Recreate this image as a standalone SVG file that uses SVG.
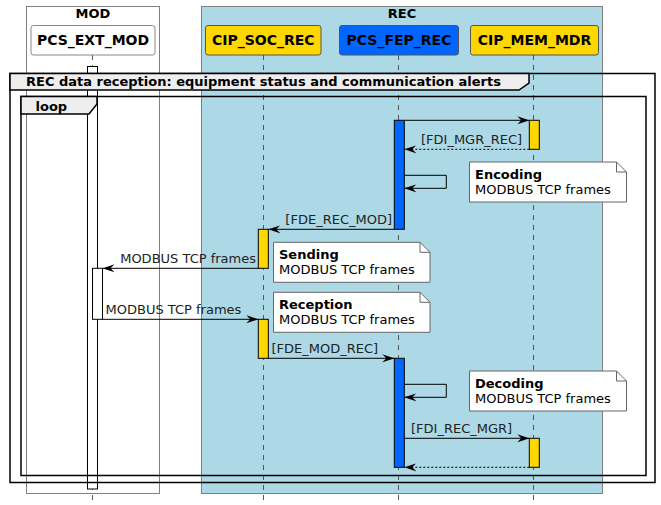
<svg xmlns="http://www.w3.org/2000/svg" width="661" height="505" viewBox="0 0 661 505">
<style>
text{font-family:"DejaVu Sans","Liberation Sans",sans-serif;fill:#000}
.pt{font-size:14px;font-weight:bold;text-anchor:middle}
.bt{font-size:13px;font-weight:bold;text-anchor:middle}
.ml{font-size:13px;fill:#222}
.nb{font-size:13px;font-weight:bold}
.nt{font-size:13px}
.life{stroke:#555;stroke-width:1;stroke-dasharray:5,5;fill:none}
.msg{stroke:#000;stroke-width:1;fill:none}
.ret{stroke:#000;stroke-width:1;fill:none;stroke-dasharray:2,2}
.act{stroke:#000;stroke-width:1}
.note{fill:#fff;stroke:#666;stroke-width:1}
.frame{fill:none;stroke:#000;stroke-width:1.5}
.tab{fill:#eee;stroke:#000;stroke-width:1.5}
</style>
<defs>
<marker id="ah" viewBox="0 0 12 10" refX="12" refY="5" markerWidth="12" markerHeight="10" markerUnits="userSpaceOnUse" orient="auto">
<polygon points="0,1 12,5 0,9 4,5" fill="#000"/>
</marker>
</defs>
<g id="box-MOD">
<rect x="26.5" y="6.5" width="133" height="487" fill="none" stroke="#808080"/>
<text class="bt" x="93" y="18">MOD</text>
</g>
<g id="box-REC">
<rect x="201.5" y="6.5" width="401" height="487" fill="#ADD8E6" stroke="#808080"/>
<text class="bt" x="402" y="18">REC</text>
</g>
<g id="lifelines">
<line class="life" x1="92.5" y1="55" x2="92.5" y2="502"/>
<line class="life" x1="263.5" y1="55" x2="263.5" y2="502"/>
<line class="life" x1="398.5" y1="55" x2="398.5" y2="502"/>
<line class="life" x1="533.5" y1="55" x2="533.5" y2="502"/>
</g>
<g id="PCS_EXT_MOD">
<rect x="31" y="25.5" width="124" height="29.5" rx="2.5" fill="#fff" stroke="#888"/>
<text class="pt" x="93" y="45">PCS_EXT_MOD</text>
</g>
<g id="CIP_SOC_REC">
<rect x="205.5" y="25.5" width="115.5" height="29.5" rx="2.5" fill="#FFD700" stroke="#555"/>
<text class="pt" x="263.3" y="45">CIP_SOC_REC</text>
</g>
<g id="PCS_FEP_REC">
<rect x="339.5" y="25.5" width="119" height="29.5" rx="2.5" fill="#0066FF" stroke="#555"/>
<text class="pt" x="399" y="45">PCS_FEP_REC</text>
</g>
<g id="CIP_MEM_MDR">
<rect x="470.5" y="25.5" width="128" height="29.5" rx="2.5" fill="#FFD700" stroke="#555"/>
<text class="pt" x="534.5" y="45">CIP_MEM_MDR</text>
</g>
<g id="activations">
<rect class="act" x="87.5" y="66.5" width="10" height="422.5" fill="#fff"/>
<rect class="act" x="92.5" y="268.3" width="10" height="51" fill="#fff"/>
<rect class="act" x="394.3" y="120.3" width="10" height="109" fill="#0066FF"/>
<rect class="act" x="529.3" y="120.3" width="10" height="29" fill="#FFD700"/>
<rect class="act" x="258.3" y="229.3" width="10" height="39" fill="#FFD700"/>
<rect class="act" x="258.3" y="319.3" width="10" height="39" fill="#FFD700"/>
<rect class="act" x="394.3" y="358.3" width="10" height="109" fill="#0066FF"/>
<rect class="act" x="529.3" y="438.3" width="10" height="29" fill="#FFD700"/>
</g>
<g id="group-REC-data-reception">
<rect class="frame" x="10" y="73.5" width="645" height="409"/>
<path class="tab" d="M10,73.5 H529 V83 L519,90 H10 Z"/>
<text class="nb" x="26" y="86">REC data reception: equipment status and communication alerts</text>
</g>
<g id="group-loop">
<rect class="frame" x="21" y="96.5" width="625" height="379"/>
<path class="tab" d="M21,96.5 H97 V104 L89,114 H21 Z"/>
<text class="nb" x="35.5" y="110.5">loop</text>
</g>
<g id="connectors">
<line class="msg" x1="404.3" y1="120.3" x2="529.3" y2="120.3" marker-end="url(#ah)"/>
<line class="ret" x1="529.3" y1="149.3" x2="404.3" y2="149.3" marker-end="url(#ah)"/>
<text class="ml" x="421" y="144">[FDI_MGR_REC]</text>
<polyline class="msg" points="404.3,175.3 446.3,175.3 446.3,188.3 404.3,188.3" marker-end="url(#ah)"/>
<line class="msg" x1="394.3" y1="229.3" x2="268.3" y2="229.3" marker-end="url(#ah)"/>
<text class="ml" x="392" y="223.5" text-anchor="end">[FDE_REC_MOD]</text>
<line class="msg" x1="258.3" y1="268.3" x2="102.5" y2="268.3" marker-end="url(#ah)"/>
<text class="ml" x="256" y="263" text-anchor="end">MODBUS TCP frames</text>
<line class="msg" x1="102.5" y1="319.3" x2="258.3" y2="319.3" marker-end="url(#ah)"/>
<text class="ml" x="105.5" y="313.5">MODBUS TCP frames</text>
<line class="msg" x1="268.3" y1="358.3" x2="394.3" y2="358.3" marker-end="url(#ah)"/>
<text class="ml" x="271.5" y="352.5">[FDE_MOD_REC]</text>
<polyline class="msg" points="404.3,384.3 446.3,384.3 446.3,397.3 404.3,397.3" marker-end="url(#ah)"/>
<line class="msg" x1="404.3" y1="438.3" x2="529.3" y2="438.3" marker-end="url(#ah)"/>
<text class="ml" x="411" y="432.5">[FDI_REC_MGR]</text>
<line class="ret" x1="529.3" y1="467.3" x2="404.3" y2="467.3" marker-end="url(#ah)"/>
</g>
<g id="note-encoding">
<path class="note" d="M469.5,162 H616.5 L626.5,172 V202 H469.5 Z"/>
<path d="M616.5,162 V172 H626.5" fill="none" stroke="#666"/>
<text class="nb" x="475" y="179">Encoding</text>
<text class="nt" x="475" y="194">MODBUS TCP frames</text>
</g>
<g id="note-sending">
<path class="note" d="M273.5,242.3 H420 L430,252.3 V282.3 H273.5 Z"/>
<path d="M420,242.3 V252.3 H430" fill="none" stroke="#666"/>
<text class="nb" x="279" y="259">Sending</text>
<text class="nt" x="279" y="274">MODBUS TCP frames</text>
</g>
<g id="note-reception">
<path class="note" d="M273.5,292.3 H420 L430,302.3 V332.3 H273.5 Z"/>
<path d="M420,292.3 V302.3 H430" fill="none" stroke="#666"/>
<text class="nb" x="279" y="309">Reception</text>
<text class="nt" x="279" y="324">MODBUS TCP frames</text>
</g>
<g id="note-decoding">
<path class="note" d="M469.5,371 H616.5 L626.5,381 V411 H469.5 Z"/>
<path d="M616.5,371 V381 H626.5" fill="none" stroke="#666"/>
<text class="nb" x="475" y="388">Decoding</text>
<text class="nt" x="475" y="403">MODBUS TCP frames</text>
</g>
</svg>
